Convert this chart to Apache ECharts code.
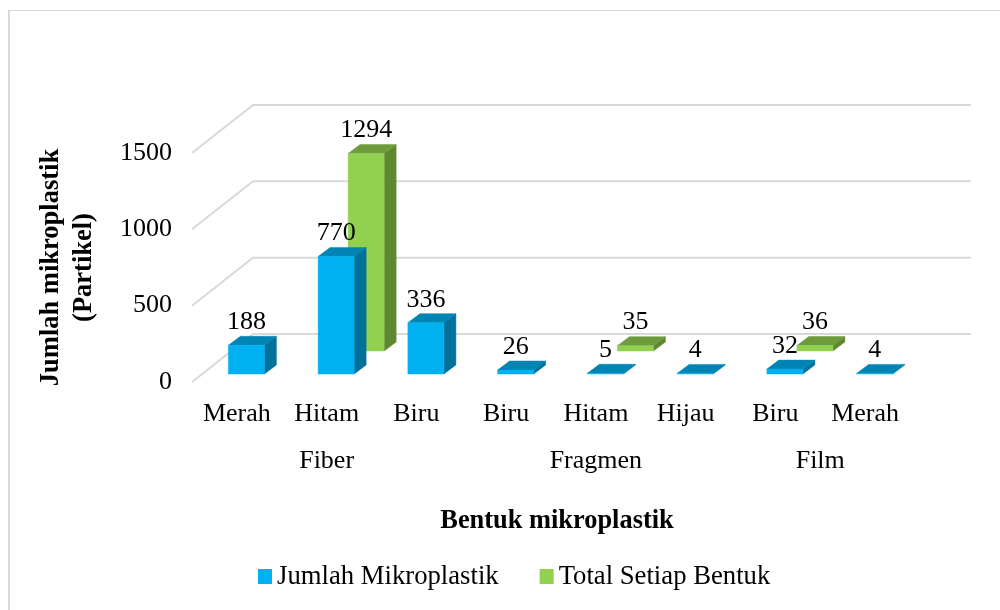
<!DOCTYPE html>
<html>
<head>
<meta charset="utf-8">
<style>html,body{margin:0;padding:0;background:#fff}#c{width:1000px;height:610px}</style>
<script src="https://cdn.jsdelivr.net/npm/echarts@6/dist/echarts.min.js"></script>
</head>
<body>
<div id="c"></div>
<script>
var categories = ['Merah','Hitam','Biru','Biru','Hitam','Hijau','Biru','Merah'];
var groupNames = ['Fiber','Fragmen','Film'];
var groupFirst = [0,3,6];
var groupLast  = [2,5,7];
var jumlahMikroplastik = [188,770,336,26,5,4,32,4];
var totalSetiapBentuk  = [null,1294,null,null,35,null,36,null];
var yTicks = [0,500,1000,1500];

var FONT = '"Liberation Serif","Times New Roman",serif';
var chart = echarts.init(document.getElementById('c'));

function pairs(arr){
  return arr.map(function(v,i){return [i,v];}).filter(function(p){return p[1]!==null;});
}
function barRenderer(dx, dy, colors){
  return function(params, api){
    var c = api.coord([api.value(0), api.value(1)]);
    var base = api.coord([api.value(0), 0]);
    var w = 36, sx = 12, sy = 9;
    var x0 = c[0]+dx-w/2, x1 = x0+w, yb = base[1]-dy, yt = yb-(base[1]-c[1]);
    function poly(pts, fill){
      return {type:'polygon', shape:{points:pts}, style:{fill:fill, stroke:fill, lineWidth:0.5}};
    }
    return {type:'group', children:[
      poly([[x1,yt],[x1+sx,yt-sy],[x1+sx,yb-sy],[x1,yb]], colors[2]),
      poly([[x0,yt],[x0+sx,yt-sy],[x1+sx,yt-sy],[x1,yt]], colors[1]),
      poly([[x0,yt],[x1,yt],[x1,yb],[x0,yb]], colors[0]),
      {type:'text', z2:10, style:{text:String(api.value(1)), x:(x0+x1)/2, y:yt-sy-14,
        align:'center', verticalAlign:'middle', fill:'#000', font:'26px '+FONT}}
    ]};
  };
}
var option = {
  animation:false,
  backgroundColor:'#fff',
  graphic:[
    {type:'rect', silent:true, shape:{x:8,y:10,width:992,height:1}, style:{fill:'#d9d9d9'}},
    {type:'rect', silent:true, shape:{x:8,y:10,width:2,height:600}, style:{fill:'#d9d9d9'}}
  ],
  grid:{left:192, top:153, width:718, height:229, containLabel:false},
  legend:{
    left:253, top:558, itemWidth:14, itemHeight:15, itemGap:41, icon:'rect',
    data:['Jumlah Mikroplastik','Total Setiap Bentuk'],
    selectedMode:false,
    textStyle:{fontFamily:FONT, fontSize:26.7, color:'#000', padding:[0,0,0,0]}
  },
  xAxis:{
    type:'category', data:categories,
    axisLine:{show:false}, axisTick:{show:false}, splitLine:{show:false},
    axisLabel:{interval:0, margin:19, fontFamily:FONT, fontSize:26, color:'#000'},
    name:'Bentuk mikroplastik', nameLocation:'middle', nameGap:126,
    nameTextStyle:{fontFamily:FONT, fontSize:26.4, fontWeight:'bold', color:'#000', padding:[0,0,0,12]}
  },
  yAxis:{
    type:'value', min:0, max:1500, interval:500,
    axisLine:{show:false}, axisTick:{show:false}, splitLine:{show:false},
    axisLabel:{margin:20, fontFamily:FONT, fontSize:26, color:'#000', padding:[0,0,5,0],
      formatter:function(v){return String(v);}},
    name:'Jumlah mikroplastik\n(Partikel)', nameLocation:'middle', nameGap:91, nameRotate:90,
    nameTextStyle:{fontFamily:FONT, fontSize:26.5, fontWeight:'bold', color:'#000', lineHeight:33}
  },
  series:[
    {
      name:'walls', type:'custom', z:1, silent:true, data:yTicks.map(function(v){return [0,v];}),
      encode:{x:0,y:1},
      renderItem:function(params, api){
        var y = api.coord([0, api.value(1)])[1];
        var l = params.coordSys.x, r = l+params.coordSys.width;
        return {type:'polyline', shape:{points:[[l,y],[l+61,y-48],[r+61,y-48]]},
          style:{fill:'none', stroke:'#d9d9d9', lineWidth:2}};
      }
    },
    {
      name:'Total Setiap Bentuk', type:'custom', z:2, data:pairs(totalSetiapBentuk),
      encode:{x:0,y:1}, itemStyle:{color:'#92D050'},
      renderItem:barRenderer(39.5, 31, ['#92D050','#6E9C3C','#5F8732'])
    },
    {
      name:'Jumlah Mikroplastik', type:'custom', z:3, data:pairs(jumlahMikroplastik),
      encode:{x:0,y:1}, itemStyle:{color:'#00B0F0'},
      renderItem:barRenderer(9.5, 8, ['#00B0F0','#0084B4','#00719B'])
    },
    {
      name:'groups', type:'custom', z:4, silent:true,
      data:groupNames.map(function(n,i){return [groupFirst[i],groupLast[i],n];}),
      encode:{x:0},
      renderItem:function(params, api){
        var a = api.coord([api.value(0),0]), b = api.coord([api.value(1),0]);
        return {type:'text', style:{text:groupNames[params.dataIndex], x:(a[0]+b[0])/2, y:a[1]+79,
          align:'center', verticalAlign:'middle', fill:'#000', font:'26px '+FONT}};
      }
    }
  ]
};
chart.setOption(option);
</script>
</body>
</html>
